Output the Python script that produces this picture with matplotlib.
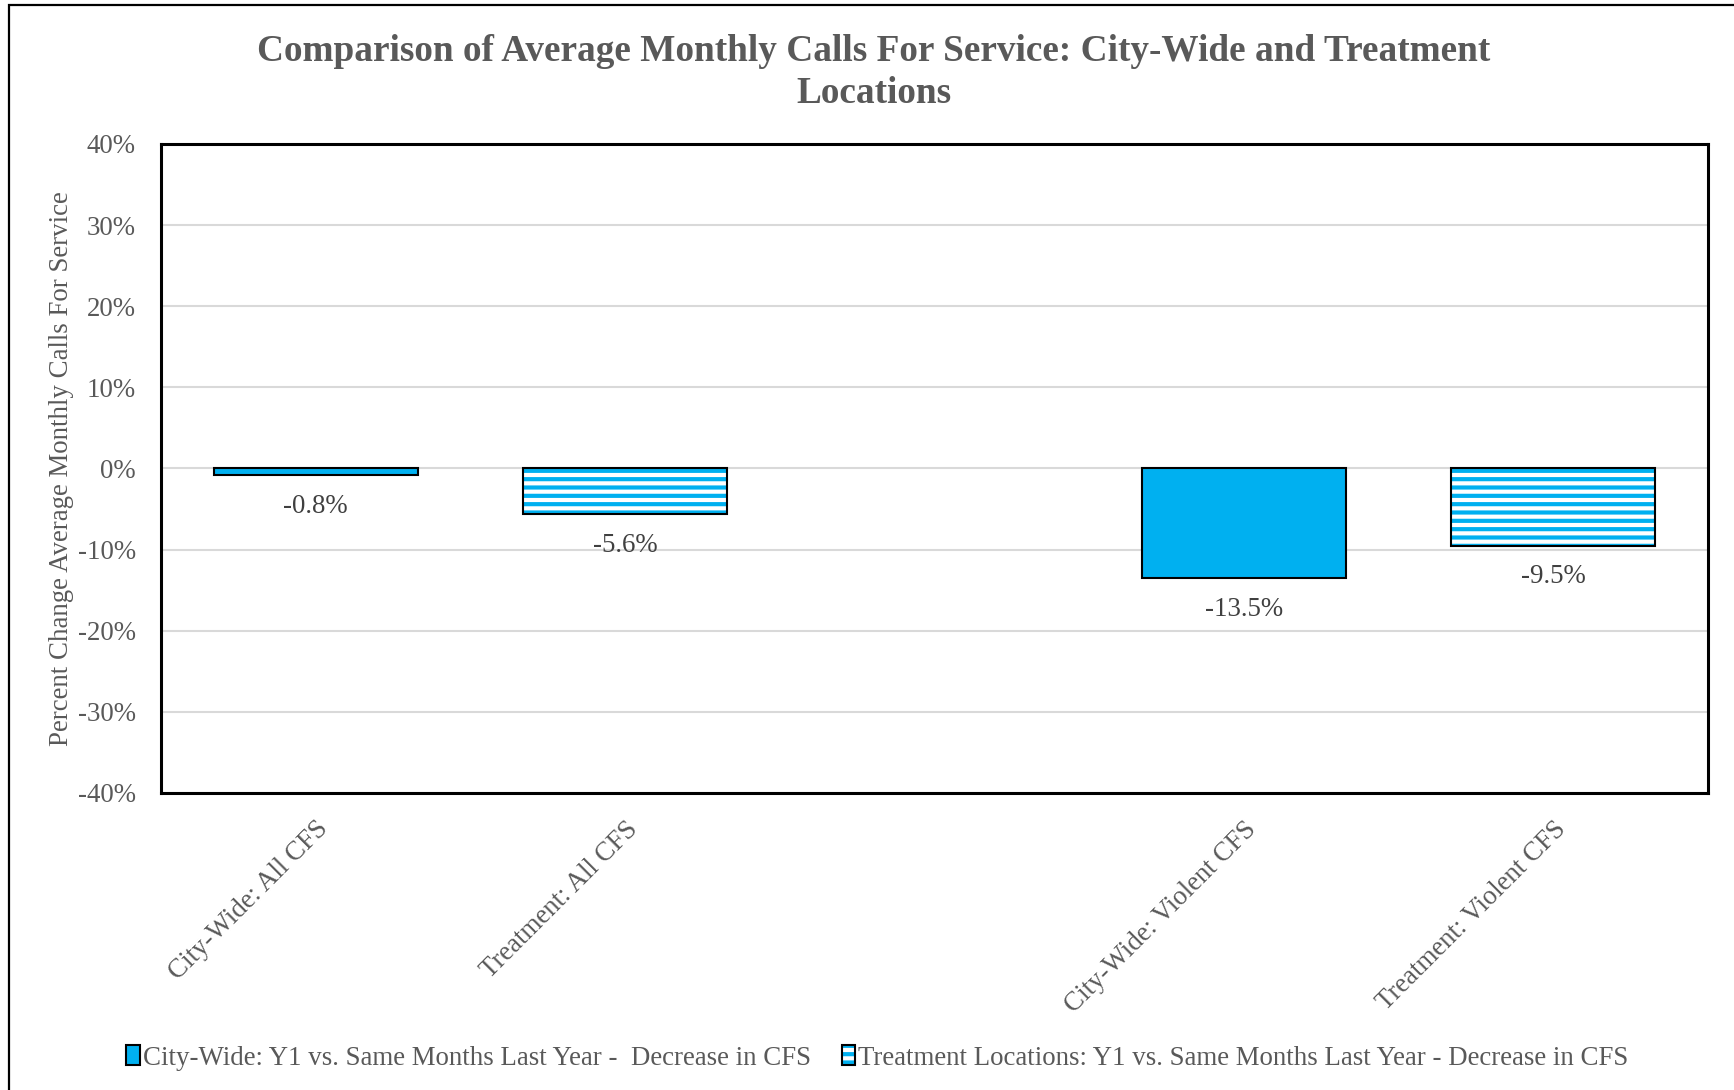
import matplotlib.pyplot as plt
from matplotlib.patches import Patch, Rectangle

# chart values
categories = ['City-Wide: All CFS', 'Treatment: All CFS', '',
              'City-Wide: Violent CFS', 'Treatment: Violent CFS']
citywide_pos = [0, 3]
citywide_vals = [-0.8, -13.5]
treatment_pos = [1, 4]
treatment_vals = [-5.6, -9.5]
yticks = [-40, -30, -20, -10, 0, 10, 20, 30, 40]

series_names = ['City-Wide: Y1 vs. Same Months Last Year -  Decrease in CFS',
                'Treatment Locations: Y1 vs. Same Months Last Year - Decrease in CFS']
title = 'Comparison of Average Monthly Calls For Service: City-Wide and Treatment\nLocations'
ylabel = 'Percent Change Average Monthly Calls For Service'

blue = '#00B0F0'
grey = '#595959'
fs = 19.4

plt.rcParams['font.family'] = ['Liberation Serif', 'DejaVu Serif']
plt.rcParams['hatch.linewidth'] = 3.0

fig = plt.figure(figsize=(17.34, 10.90), dpi=100)
ax = fig.add_axes([0.0928, 0.2725, 0.8922, 0.5954])

# outer chart frame (runs off the right/bottom edge)
fig.patches.append(Rectangle((9 / 1734, -0.05), 1.1, 1 - 5 / 1090 + 0.05,
                             transform=fig.transFigure, fill=False,
                             edgecolor='black', linewidth=1.6, zorder=0))

bw = 0.66
ax.bar(citywide_pos, citywide_vals, width=bw, color=blue,
       edgecolor='black', linewidth=1.5, zorder=3)
# striped bars: hatch drawn in blue, outline drawn separately in black
ax.bar(treatment_pos, treatment_vals, width=bw, color='white',
       edgecolor=blue, hatch='--', linewidth=0, zorder=3)
ax.bar(treatment_pos, treatment_vals, width=bw, fill=False,
       edgecolor='black', linewidth=1.5, zorder=4)

for xs, vs in ((citywide_pos, citywide_vals), (treatment_pos, treatment_vals)):
    for x, v in zip(xs, vs):
        ax.annotate(f'{v:.1f}%', (x, v), xytext=(0, -22.5),
                    textcoords='offset points', ha='center', va='center',
                    fontsize=fs, color='#404040')

ax.set_xlim(-0.5, 4.5)
ax.set_ylim(-40, 40)
ax.set_yticks(yticks)
ax.set_yticklabels([f'{t}%' for t in yticks])
ax.yaxis.grid(True, color='#d9d9d9', linewidth=1.5, zorder=0)
ax.set_axisbelow(True)
ax.tick_params(axis='y', length=0, pad=18, labelsize=fs, labelcolor=grey)
ax.set_xticks(range(len(categories)))
ax.set_xticklabels(categories, rotation=45, ha='right',
                   rotation_mode='anchor', fontsize=fs, color=grey)
ax.tick_params(axis='x', length=0, pad=17)
for s in ax.spines.values():
    s.set_linewidth(2.2)
    s.set_color('black')

ax.set_ylabel(ylabel, fontsize=fs, color=grey, labelpad=3)

fig.text(0.504, 0.969, title, ha='center', va='top', fontsize=26.8,
         fontweight='bold', color=grey, linespacing=1.28)

outline = Patch(facecolor='none', edgecolor='black', linewidth=1.5)
handles = [Patch(facecolor=blue, edgecolor='black', linewidth=1.5),
           (Patch(facecolor='white', edgecolor=blue, hatch='--', linewidth=0), outline)]
leg = fig.legend(handles, series_names, loc='center', ncol=2,
                 bbox_to_anchor=(0.506, 1 - 1058 / 1090), frameon=False,
                 fontsize=fs, handlelength=0.5, handleheight=0.75,
                 handletextpad=0.12, columnspacing=1.15)
for t in leg.get_texts():
    t.set_color(grey)

fig.savefig('out.png', dpi=100)
